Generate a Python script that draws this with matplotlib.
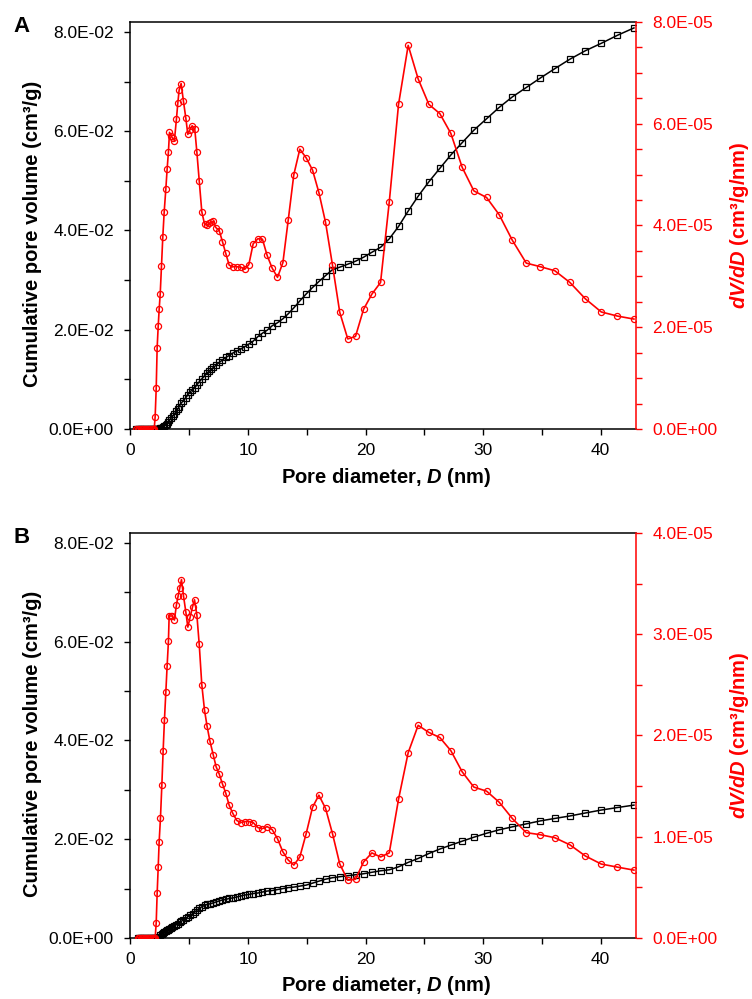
import matplotlib
matplotlib.use("Agg")
import matplotlib.pyplot as plt
from matplotlib.ticker import MultipleLocator, FormatStrFormatter

plt.rcParams['font.family'] = ['Liberation Sans', 'DejaVu Sans']
plt.rcParams['mathtext.fontset'] = 'custom'
plt.rcParams['mathtext.rm'] = 'Liberation Sans'
plt.rcParams['mathtext.bfit'] = 'Liberation Sans:bold:italic'
plt.rcParams['mathtext.it'] = 'Liberation Sans:italic'

# ---- panel A ----
diam_a = [0.50, 0.62, 0.74, 0.86, 0.98, 1.10, 1.22, 1.34, 1.46, 1.58, 1.70, 1.82, 1.94, 2.02,
          2.10, 2.19, 2.27, 2.36, 2.44, 2.53, 2.64, 2.75, 2.87, 3.01, 3.12, 3.23, 3.32, 3.46,
          3.60, 3.74, 3.91, 4.03, 4.14, 4.31, 4.51, 4.71, 4.88, 5.05, 5.25, 5.47, 5.65, 5.85,
          6.07, 6.30, 6.50, 6.67, 6.87, 7.06, 7.26, 7.55, 7.83, 8.11, 8.40, 8.71, 9.05, 9.39,
          9.73, 10.07, 10.44, 10.84, 11.23, 11.63, 12.06, 12.51, 12.97, 13.42, 13.90, 14.41,
          14.95, 15.49, 16.03, 16.60, 17.19, 17.81, 18.49, 19.15, 19.83, 20.54, 21.28, 22.02,
          22.81, 23.63, 24.48, 25.39, 26.32, 27.26, 28.23, 29.22, 30.30, 31.38, 32.49, 33.68,
          34.87, 36.11, 37.39, 38.70, 40.06, 41.42, 42.84]

cum_a = [0, 0, 0, 0, 0, 0, 0, 0, 0, 0, 0, 0, 0, 0,
         0, 0, 0, 0, 0.00005, 0.0001, 0.0002, 0.0004, 0.0006, 0.0009, 0.0011, 0.0015, 0.0018, 0.0022,
         0.0026, 0.0030, 0.0036, 0.0040, 0.0045, 0.0052, 0.0057, 0.0063, 0.0069, 0.0074, 0.0079, 0.0083, 0.0089, 0.0095,
         0.0101, 0.0107, 0.0112, 0.0116, 0.0120, 0.0124, 0.0128, 0.0134, 0.0139, 0.0144, 0.0148, 0.0153, 0.0157, 0.0161,
         0.0166, 0.0171, 0.0177, 0.0186, 0.0193, 0.0199, 0.0208, 0.0214, 0.0222, 0.0232, 0.0244, 0.0258,
         0.0272, 0.0285, 0.0297, 0.0309, 0.0321, 0.0326, 0.0332, 0.0338, 0.0346, 0.0356, 0.0366, 0.0383,
         0.0408, 0.0439, 0.0469, 0.0498, 0.0525, 0.0552, 0.0577, 0.0602, 0.0625, 0.0648, 0.0669, 0.0688,
         0.0707, 0.0726, 0.0745, 0.0762, 0.0777, 0.0793, 0.0808]

# dV/dD in units of 1e-5 cm3/g/nm
dvdd_a = [0, 0, 0, 0, 0, 0, 0, 0, 0, 0, 0, 0, 0, 0,
          0.24, 0.80, 1.60, 2.02, 2.35, 2.65, 3.21, 3.77, 4.27, 4.72, 5.11, 5.45, 5.83, 5.76,
          5.71, 5.67, 6.09, 6.41, 6.66, 6.79, 6.44, 6.11, 5.79, 5.88, 5.96, 5.90, 5.44, 4.88,
          4.27, 4.03, 4.00, 4.04, 4.06, 4.08, 3.96, 3.90, 3.68, 3.45, 3.22, 3.19, 3.19, 3.18,
          3.14, 3.23, 3.64, 3.74, 3.73, 3.41, 3.16, 2.98, 3.27, 4.10, 5.00, 5.50,
          5.33, 5.09, 4.65, 4.06, 3.22, 2.29, 1.77, 1.82, 2.35, 2.65, 2.88, 4.46,
          6.38, 7.54, 6.88, 6.38, 6.20, 5.81, 5.14, 4.68, 4.55, 4.21, 3.71, 3.26,
          3.19, 3.11, 2.88, 2.56, 2.30, 2.22, 2.16]

# ---- panel B ----
diam_b = [0.62, 0.74, 0.86, 0.98, 1.10, 1.22, 1.34, 1.46, 1.58, 1.70, 1.82, 1.94, 2.02, 2.10,
          2.19, 2.27, 2.36, 2.44, 2.55, 2.67, 2.78, 2.89, 3.01, 3.12, 3.23, 3.29, 3.43, 3.57,
          3.74, 3.91, 4.06, 4.20, 4.34, 4.51, 4.71, 4.88, 5.08, 5.28, 5.45, 5.65, 5.85, 6.07,
          6.30, 6.52, 6.75, 7.04, 7.29, 7.55, 7.83, 8.11, 8.40, 8.71, 9.05, 9.39, 9.73, 10.07,
          10.44, 10.84, 11.23, 11.63, 12.06, 12.51, 12.97, 13.42, 13.90, 14.41, 14.95, 15.49,
          16.03, 16.60, 17.19, 17.81, 18.49, 19.15, 19.83, 20.54, 21.28, 22.02, 22.81, 23.63,
          24.48, 25.39, 26.32, 27.26, 28.23, 29.22, 30.30, 31.38, 32.49, 33.68, 34.87, 36.11,
          37.39, 38.70, 40.06, 41.42, 42.84]

cum_b = [0, 0, 0, 0, 0, 0, 0, 0, 0, 0, 0, 0, 0, 0,
         0, 0, 0, 0.0002, 0.0005, 0.0008, 0.0010, 0.0012, 0.0014, 0.0016, 0.0017, 0.0018, 0.0020, 0.0022,
         0.0025, 0.0027, 0.0029, 0.0032, 0.0034, 0.0037, 0.0040, 0.0043, 0.0046, 0.0049, 0.0052, 0.0056, 0.0060, 0.0063,
         0.0066, 0.0068, 0.0069, 0.0071, 0.0073, 0.0075, 0.0077, 0.0078, 0.0080, 0.0081, 0.0083, 0.0085, 0.0087, 0.0088,
         0.0090, 0.0091, 0.0093, 0.0095, 0.0096, 0.0098, 0.0100, 0.0102, 0.0103, 0.0105, 0.0107, 0.0111,
         0.0115, 0.0119, 0.0122, 0.0124, 0.0126, 0.0128, 0.0130, 0.0133, 0.0136, 0.0138, 0.0144, 0.0153,
         0.0161, 0.0171, 0.0180, 0.0188, 0.0196, 0.0204, 0.0212, 0.0219, 0.0225, 0.0231, 0.0237, 0.0242,
         0.0247, 0.0253, 0.0259, 0.0264, 0.0269]

dvdd_b = [0, 0, 0, 0, 0, 0, 0, 0, 0, 0, 0, 0, 0, 0,
          0.15, 0.44, 0.70, 0.95, 1.18, 1.51, 1.85, 2.15, 2.43, 2.69, 2.93, 3.18, 3.18, 3.18,
          3.14, 3.29, 3.38, 3.46, 3.54, 3.38, 3.22, 3.07, 3.17, 3.27, 3.34, 3.19, 2.90, 2.50,
          2.25, 2.09, 1.95, 1.81, 1.69, 1.62, 1.52, 1.43, 1.31, 1.23, 1.16, 1.14, 1.15, 1.15,
          1.14, 1.09, 1.08, 1.10, 1.07, 0.98, 0.85, 0.77, 0.72, 0.80, 1.03, 1.29,
          1.41, 1.28, 1.03, 0.73, 0.57, 0.58, 0.75, 0.84, 0.80, 0.84, 1.37, 1.83,
          2.10, 2.03, 1.98, 1.85, 1.64, 1.49, 1.45, 1.34, 1.18, 1.04, 1.02, 0.99,
          0.92, 0.81, 0.73, 0.70, 0.67]

panels = [
    ("A", diam_a, cum_a, dvdd_a, 8e-5, 2e-5, [0.1735, 0.5706, 0.672, 0.4074]),
    ("B", diam_b, cum_b, dvdd_b, 4e-5, 1e-5, [0.1735, 0.0611, 0.672, 0.4054]),
]

RED = "#ff0000"
fig = plt.figure(figsize=(7.52, 9.99), dpi=100)

for tag, xd, cum, dv, rtop, rmajor, rect in panels:
    ax = fig.add_axes(rect)
    ax2 = ax.twinx()

    ax.plot(xd, cum, color="black", lw=1.1, marker="s", ms=4.2,
            mfc="none", mec="black", mew=0.9)
    ax2.plot(xd, [v * 1e-5 for v in dv], color=RED, lw=1.2, marker="o", ms=4.4,
             mfc="none", mec=RED, mew=0.9)

    ax.set_xlim(0, 43)
    ax.set_ylim(0, 0.082)
    ax2.set_ylim(0, rtop)

    ax.xaxis.set_major_locator(MultipleLocator(10))
    ax.xaxis.set_minor_locator(MultipleLocator(5))
    ax.yaxis.set_major_locator(MultipleLocator(0.02))
    ax.yaxis.set_minor_locator(MultipleLocator(0.01))
    ax.yaxis.set_major_formatter(FormatStrFormatter("%.1E"))
    ax2.yaxis.set_major_locator(MultipleLocator(rmajor))
    ax2.yaxis.set_minor_locator(MultipleLocator(0.5e-5))
    ax2.yaxis.set_major_formatter(FormatStrFormatter("%.1E"))

    ax.tick_params(axis="both", which="both", direction="out", length=4, width=1,
                   labelsize=12.5, top=False, right=False)
    ax.tick_params(axis="y", pad=8)
    ax.tick_params(axis="x", pad=6)
    ax2.tick_params(axis="y", which="both", direction="out", length=4, width=1,
                    colors=RED, labelsize=12.5, pad=8)

    for s in ["left", "bottom", "top"]:
        ax.spines[s].set_linewidth(1.1)
        ax2.spines[s].set_visible(False)
    ax.spines["right"].set_visible(False)
    ax2.spines["right"].set_color(RED)
    ax2.spines["right"].set_linewidth(1.1)
    ax2.spines["left"].set_visible(False)

    ax.set_xlabel(r"Pore diameter, $\mathbfit{D}$ (nm)", fontsize=14.5, fontweight="bold")
    ax.xaxis.set_label_coords(0.505, -0.09)
    ax.set_ylabel("Cumulative pore volume (cm³/g)", fontsize=14.5, fontweight="bold")
    ax.yaxis.set_label_coords(-0.176, 0.48)
    ax2.set_ylabel(r"$\mathbfit{dV/dD}$ (cm³/g/nm)", fontsize=14.5, fontweight="bold",
                   color=RED, rotation=90)
    ax2.yaxis.set_label_coords(1.182, 0.5)

    fig.text(rect[0] - 0.145, rect[1] + rect[3] - 0.005, tag, fontsize=16,
             fontweight="bold", ha="center", va="center")

fig.savefig("out.png", dpi=100)
